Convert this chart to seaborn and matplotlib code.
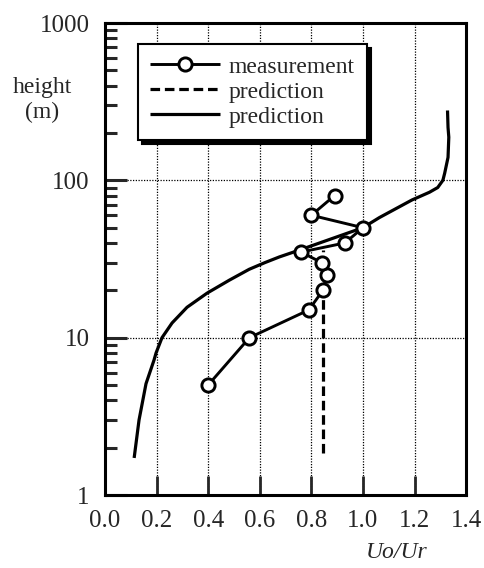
import numpy as np
import pandas as pd
import matplotlib
matplotlib.use("Agg")
import matplotlib.pyplot as plt
import seaborn as sns
from matplotlib.ticker import LogLocator, NullFormatter

# ---- data ----
meas_u = [0.40, 0.56, 0.79, 0.845, 0.86, 0.84, 0.76, 0.93, 1.00, 0.80, 0.89]
meas_h = [5, 10, 15, 20, 25, 30, 35, 40, 50, 60, 80]

dash_u = [0.845, 0.845, 0.845]
dash_h = [1.85, 10, 36]

solid_u = [0.113, 0.132, 0.159, 0.19, 0.198, 0.221, 0.26, 0.318, 0.396,
           0.482, 0.559, 0.62, 0.676, 0.753, 1.0, 1.064, 1.19, 1.258, 1.29,
           1.31, 1.317, 1.33, 1.333, 1.33, 1.328]
solid_h = [1.72, 3.0, 5.1, 7.2, 8.0, 10, 12.4, 15.6, 19.2,
           23.2, 27.2, 30.0, 32.6, 36, 50, 58, 75, 84, 90,
           100, 111, 140, 188, 217, 278]

x_ticks = [0.0, 0.2, 0.4, 0.6, 0.8, 1.0, 1.2, 1.4]
x_labels = ["0.0", "0.2", "0.4", "0.6", "0.8", "1.0", "1.2", "1.4"]
y_ticks = [1, 10, 100, 1000]
y_labels = ["1", "10", "100", "1000"]

sns.set_style("ticks")
plt.rcParams["font.family"] = ["Liberation Serif", "DejaVu Serif"]
plt.rcParams["font.size"] = 16

fig = plt.figure(figsize=(4.85, 5.68), dpi=100)
ax = fig.add_axes([0.2165, 0.1285, 0.7445, 0.831])

df_m = pd.DataFrame({"u": meas_u, "h": meas_h})
df_d = pd.DataFrame({"u": dash_u, "h": dash_h})
df_s = pd.DataFrame({"u": solid_u, "h": solid_h})

sns.lineplot(data=df_m, x="u", y="h", sort=False, estimator=None, ax=ax,
             color="black", lw=2.1, marker="o", markersize=9.5,
             markerfacecolor="white", markeredgecolor="black",
             markeredgewidth=2.1, label="measurement", zorder=5)
sns.lineplot(data=df_d, x="u", y="h", sort=False, estimator=None, ax=ax,
             color="black", lw=2.3, linestyle=(0, (3, 1.5)),
             label="prediction", zorder=4)
sns.lineplot(data=df_s, x="u", y="h", sort=False, estimator=None, ax=ax,
             color="black", lw=2.3, label="prediction", zorder=4)
for ln in ax.get_lines():
    ln.set_solid_joinstyle("round")
    ln.set_solid_capstyle("butt")

ax.set_yscale("log")
ax.set_xlim(0, 1.4)
ax.set_ylim(1, 1000)

ax.set_xticks(x_ticks)
ax.set_xticklabels(x_labels)
ax.set_yticks(y_ticks)
ax.set_yticklabels(y_labels)
ax.yaxis.set_minor_locator(LogLocator(base=10, subs=np.arange(2, 10)))
ax.yaxis.set_minor_formatter(NullFormatter())

ax.tick_params(axis="x", which="major", direction="in", length=14, width=2.0,
               pad=11, labelsize=18, top=False)
ax.tick_params(axis="y", which="major", direction="in", length=16, width=2.2,
               pad=11, labelsize=18, right=False)
ax.tick_params(axis="y", which="minor", direction="in", length=8.5, width=2.2,
               right=False)
ax.tick_params(axis="x", which="minor", bottom=False, top=False)

for s in ax.spines.values():
    s.set_linewidth(2.2)
    s.set_color("black")
    s.set_visible(True)

ax.grid(True, which="major", axis="both", linestyle=(0, (1, 1.2)),
        linewidth=0.9, color="black")
ax.set_axisbelow(True)

ax.set_xlabel("")
ax.set_ylabel("")

fig.text(42 / 485, 1 - 100 / 568, "height\n(m)", ha="center", va="center",
         fontsize=17, linespacing=1.2)
fig.text(397 / 485, 1 - 552 / 568, "Uo/Ur", ha="center", va="center",
         fontsize=17, style="italic")

leg = ax.legend(loc="upper left", bbox_to_anchor=(0.091, 0.955),
                borderaxespad=0, frameon=True, fancybox=False,
                shadow={"color": "black", "alpha": 1, "ox": 3, "oy": -3},
                handlelength=3.0, handletextpad=0.35, labelspacing=0.15,
                borderpad=0.5, fontsize=17)
leg.get_frame().set_edgecolor("black")
leg.get_frame().set_linewidth(1.5)
leg.get_frame().set_facecolor("white")
leg.get_frame().set_alpha(1)

fig.savefig("out.png", dpi=100)
